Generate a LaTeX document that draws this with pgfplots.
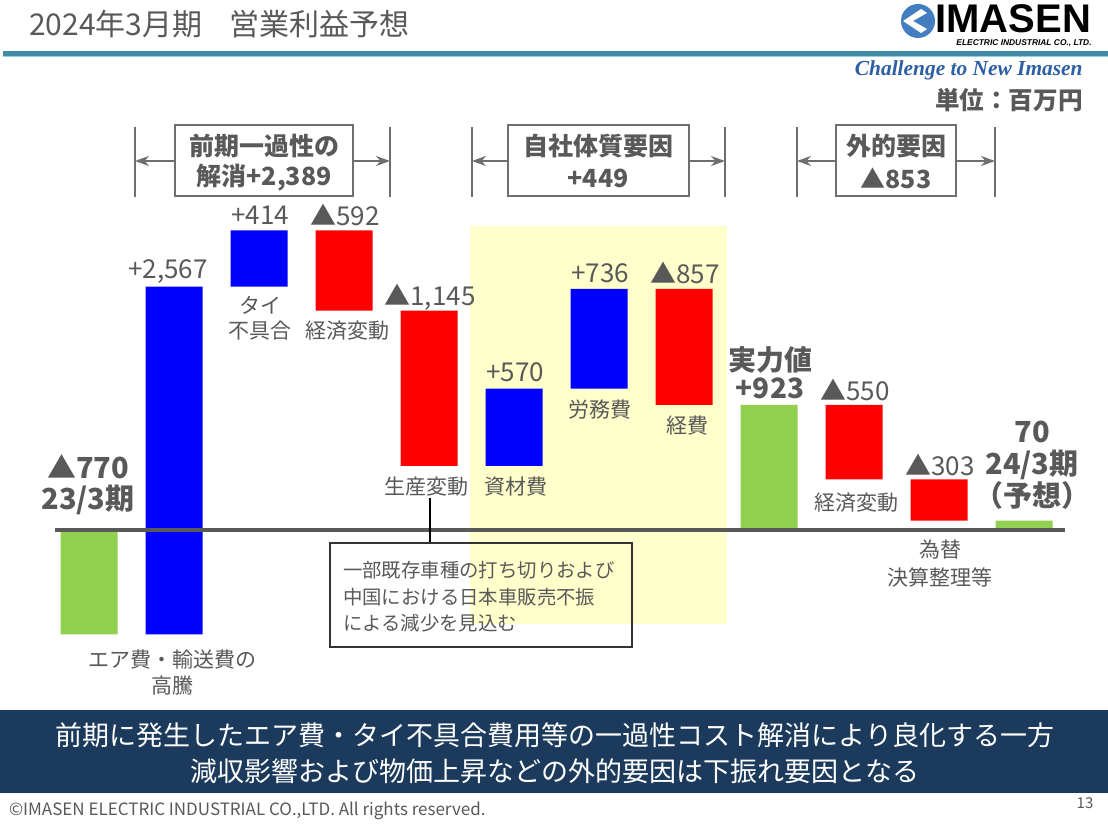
\documentclass[border=0pt]{standalone}
\usepackage{pgfplots}
\usepackage{pgfplotstable}
\pgfplotsset{compat=1.18}
\usepackage{fontspec}
\setmainfont{Noto Sans CJK JP}
\newfontfamily\timesf{Liberation Serif}
\newfontfamily\arialf{Liberation Sans}
\usetikzlibrary{arrows.meta}
\definecolor{tg}{RGB}{89,89,89}
\definecolor{bblue}{RGB}{0,0,255}
\definecolor{bred}{RGB}{255,0,0}
\definecolor{bgreen}{RGB}{146,208,80}
\definecolor{hlyellow}{RGB}{255,255,204}
\definecolor{hdrline}{RGB}{64,140,166}
\definecolor{hdrlight}{RGB}{150,205,225}
\definecolor{navy}{RGB}{27,58,92}
\definecolor{logoblue}{RGB}{66,126,192}
\definecolor{chblue}{RGB}{45,95,165}
\definecolor{brk}{RGB}{110,110,110}
\newcommand\fs[1]{\fontsize{#1pt}{#1pt}\selectfont}

\pgfplotstableread{
x off blue red green
0 0 0 0 -770
1 -770 2567 0 0
2 1797 414 0 0
3 1619 0 592 0
4 474 0 1145 0
5 474 570 0 0
6 1044 736 0 0
7 923 0 857 0
8 0 0 0 923
9 373 0 550 0
10 70 0 303 0
11 0 0 0 70
}\wf

\begin{document}
\begin{tikzpicture}
\begin{scope}[x=0.5pt,y=-0.5pt]
\path[use as bounding box, fill=white] (0,0) rectangle (1108,823);
\fill[hlyellow] (470,226) rectangle (727,624);
\end{scope}

\begin{axis}[at={(2pt,-319.2pt)}, anchor=south west, scale only axis,
  width=552.5pt, height=210pt, xmin=-1, xmax=12, ymin=-800, ymax=2300,
  hide axis, ybar stacked, stack negative=on previous, bar width=28.5pt, clip=false]
\addplot[draw=none, fill=none] table[x=x, y=off] {\wf};
\addplot[draw=none, fill=bblue] table[x=x, y=blue] {\wf};
\addplot[draw=none, fill=bred] table[x=x, y=red] {\wf};
\addplot[draw=none, fill=bgreen] table[x=x, y=green] {\wf};
\end{axis}

\begin{scope}[x=0.5pt,y=-0.5pt]
% header
\node[anchor=west, text=tg, font=\fs{15}] at (22,24) {2024年3月期\hspace{0.9em}営業利益予想};
\fill[hdrline] (3,51.5) rectangle (1108,56);
\fill[hdrlight] (3,56) rectangle (1108,57.5);
% logo
\fill[logoblue] (918,21) circle (17);
\fill[white] (903,21) -- (921,9) -- (927,13) -- (913,21) -- (927,29) -- (921,33) -- cycle;
\node[anchor=west, inner sep=0, font=\arialf\bfseries\fs{20}] at (935,19) {IMASEN};
\node[anchor=east, inner sep=0, font=\arialf\bfseries\itshape\fs{4.2}] at (1092,43.5) {ELECTRIC INDUSTRIAL CO., LTD.};
\node[anchor=east, inner sep=0, text=chblue, font=\timesf\bfseries\itshape\fs{10.7}] at (1083,70) {Challenge to New Imasen};
\node[anchor=east, inner sep=0, text=tg, font=\bfseries\fs{12.3}] at (1083,100) {単位：百万円};

% brackets
\foreach \a/\b/\c/\d in {135/175/353/390, 472/508/689/725, 797/836/956/995}{
  \draw[brk, line width=1pt] (\a,127) -- (\a,197);
  \draw[brk, line width=1pt] (\d,127) -- (\d,197);
  \draw[brk, line width=1pt, -{Stealth[length=7pt,width=5pt]}] (\b,161) -- (\a,161);
  \draw[brk, line width=1pt, -{Stealth[length=7pt,width=5pt]}] (\c,161) -- (\d,161);
  \draw[brk, line width=1.2pt] (\b,125) rectangle (\c,196);
}
\node[text=tg, font=\bfseries\fs{12.5}] at (264,146) {前期一過性の};
\node[text=tg, font=\bfseries\fs{12.5}] at (264,178) {解消+2,389};
\node[text=tg, font=\bfseries\fs{12.5}] at (598,146) {自社体質要因};
\node[text=tg, font=\bfseries\fs{12.5}] at (598,178) {+449};
\node[text=tg, font=\bfseries\fs{12.5}] at (896,146) {外的要因};
\node[text=tg, font=\bfseries\fs{12.5}] at (896,178) {▲853};

% value labels
\node[text=tg, font=\fs{13}] at (168,272) {+2,567};
\node[text=tg, font=\fs{13}] at (260,215) {+414};
\node[text=tg, font=\fs{13}] at (345,215) {▲592};
\node[text=tg, font=\fs{13}] at (430,297) {▲1,145};
\node[text=tg, font=\fs{13}] at (515,372) {+570};
\node[text=tg, font=\fs{13}] at (600,273) {+736};
\node[text=tg, font=\fs{13}] at (685,273) {▲857};
\node[text=tg, font=\fs{13}] at (855,390) {▲550};
\node[text=tg, font=\fs{13}] at (940,465) {▲303};
\node[text=tg, font=\bfseries\fs{14}] at (770,360) {実力値};
\node[text=tg, font=\bfseries\fs{14}] at (770,388) {+923};
\node[text=tg, font=\bfseries\fs{14.5}] at (88,467) {▲770};
\node[text=tg, font=\bfseries\fs{14.5}] at (88,500) {23/3期};
\node[text=tg, font=\bfseries\fs{14.5}] at (1032,432) {70};
\node[text=tg, font=\bfseries\fs{14.5}] at (1032,465) {24/3期};
\node[text=tg, font=\bfseries\fs{14.5}] at (1032,495) {（予想）};

% category labels
\node[text=tg, font=\fs{10.5}] at (172,660) {エア費・輸送費の};
\node[text=tg, font=\fs{10.5}] at (172,686) {高騰};
\node[text=tg, font=\fs{10.5}] at (260,305) {タイ};
\node[text=tg, font=\fs{10.5}] at (260,331) {不具合};
\node[text=tg, font=\fs{10.5}] at (347,331) {経済変動};
\node[text=tg, font=\fs{10.5}] at (426,487) {生産変動};
\node[text=tg, font=\fs{10.5}] at (516,487) {資材費};
\node[text=tg, font=\fs{10.5}] at (600,410) {労務費};
\node[text=tg, font=\fs{10.5}] at (687,426) {経費};
\node[text=tg, font=\fs{10.5}] at (856,503) {経済変動};
\node[text=tg, font=\fs{10.5}] at (940,550) {為替};
\node[text=tg, font=\fs{10.5}] at (940,577) {決算整理等};

% baseline
\draw[tg, line width=2pt] (55,530) -- (1065,530);

% callout
\draw[black, line width=0.7pt] (430,498) -- (430,543);
\draw[black!80, line width=0.8pt] (330,543) rectangle (632,647);
\node[anchor=west, text=tg, font=\fs{9.7}] at (336,570) {一部既存車種の打ち切りおよび};
\node[anchor=west, text=tg, font=\fs{9.7}] at (336,597) {中国における日本車販売不振};
\node[anchor=west, text=tg, font=\fs{9.7}] at (336,623) {による減少を見込む};

% footer band
\fill[navy] (0,710) rectangle (1108,793);
\node[text=white, font=\fs{13.5}] at (555,735) {前期に発生したエア費・タイ不具合費用等の一過性コスト解消により良化する一方};
\node[text=white, font=\fs{13.5}] at (555,771) {減収影響および物価上昇などの外的要因は下振れ要因となる};
\node[anchor=west, text=tg, font=\fs{8.5}] at (2,811) {©IMASEN ELECTRIC INDUSTRIAL CO.,LTD. All rights reserved.};
\node[text=tg, font=\fs{7.5}] at (1085,803) {13};
\end{scope}
\end{tikzpicture}
\end{document}
